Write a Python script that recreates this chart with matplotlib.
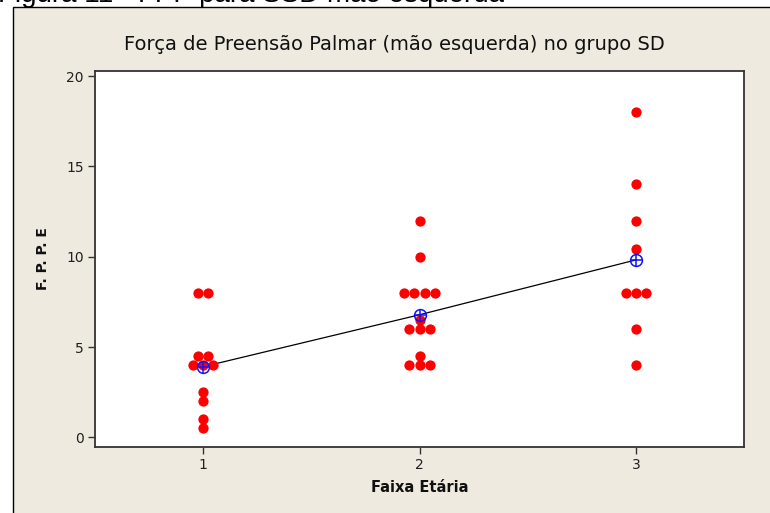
import numpy as np
import matplotlib
matplotlib.use("Agg")
import matplotlib.pyplot as plt
from matplotlib.patches import Rectangle

# Data
groups = [1, 2, 3]
g1 = [8, 8, 4.5, 4.5, 4, 4, 4, 2.5, 2, 1, 0.5]
g2 = [12, 10, 8, 8, 8, 8, 6.5, 6, 6, 6, 4.5, 4, 4, 4]
g3 = [18, 14, 12, 10.4, 8, 8, 8, 6, 4]
values = [g1, g2, g3]

fig = plt.figure(figsize=(7.7, 5.13), dpi=100)
fig.patch.set_facecolor("white")

# beige Minitab panel, behind the axes
panel = Rectangle((12.7 / 770, -0.02), 1.0, 0.9864 + 0.02,
                  transform=fig.transFigure, facecolor="#EEEAE0",
                  edgecolor="black", linewidth=1.0, zorder=-5)
fig.add_artist(panel)

# caption from the document, cut off at the top
fig.text(-0.002, 1 - 2.5 / 513, "Figura 11 - FPP para SSD mão esquerda",
         family="Liberation Sans", fontsize=20, ha="left", va="baseline")

ax = fig.add_axes([95 / 770, 1 - 446.7 / 513, (744 - 95) / 770, (446.7 - 70.7) / 513])
ax.set_facecolor("white")

spacing = 10 / 216.3
for x, vals in zip(groups, values):
    uniq, counts = np.unique(vals, return_counts=True)
    for v, n in zip(uniq, counts):
        offs = (np.arange(n) - (n - 1) / 2) * spacing
        ax.plot(x + offs, [v] * n, "o", color="#FF0000", markersize=7.4,
                markeredgewidth=0, zorder=3)

means = [np.mean(v) for v in values]
ax.plot(groups, means, color="black", linewidth=0.9, zorder=2)
ax.plot(groups, means, "o", markerfacecolor="none", markeredgecolor="#1010FF",
        markersize=8.5, markeredgewidth=1.1, zorder=4)
ax.plot(groups, means, "+", color="#1010FF", markersize=8.5,
        markeredgewidth=1.1, zorder=4)

ax.set_xlim(0.5, 3.5)
ax.set_ylim(-0.52, 20.3)
ax.set_xticks(groups)
ax.set_yticks([0, 5, 10, 15, 20])

for s in ax.spines.values():
    s.set_color("#333333")
    s.set_linewidth(1.3)
ax.tick_params(direction="out", length=5, width=1, color="#333333",
               labelsize=10, labelcolor="#202020", pad=3)

# title is centred on the panel, not on the axes
fig.text(394 / 770, 1 - 45 / 513, "Força de Preensão Palmar (mão esquerda) no grupo SD",
         fontsize=14, color="#101010", ha="center", va="center")
ax.set_xlabel("Faixa Etária", fontsize=10.5, fontweight="bold", color="#101010")
ax.xaxis.set_label_coords(0.5, (446.7 - 487.7) / 376)
ax.xaxis.label.set_va("center")
ax.set_ylabel("F. P. P. E", fontsize=10, fontweight="bold", color="#101010")
ax.yaxis.set_label_coords((43 - 95) / 649, 0.5)
ax.yaxis.label.set_va("center")

fig.savefig("out.png", dpi=100)
